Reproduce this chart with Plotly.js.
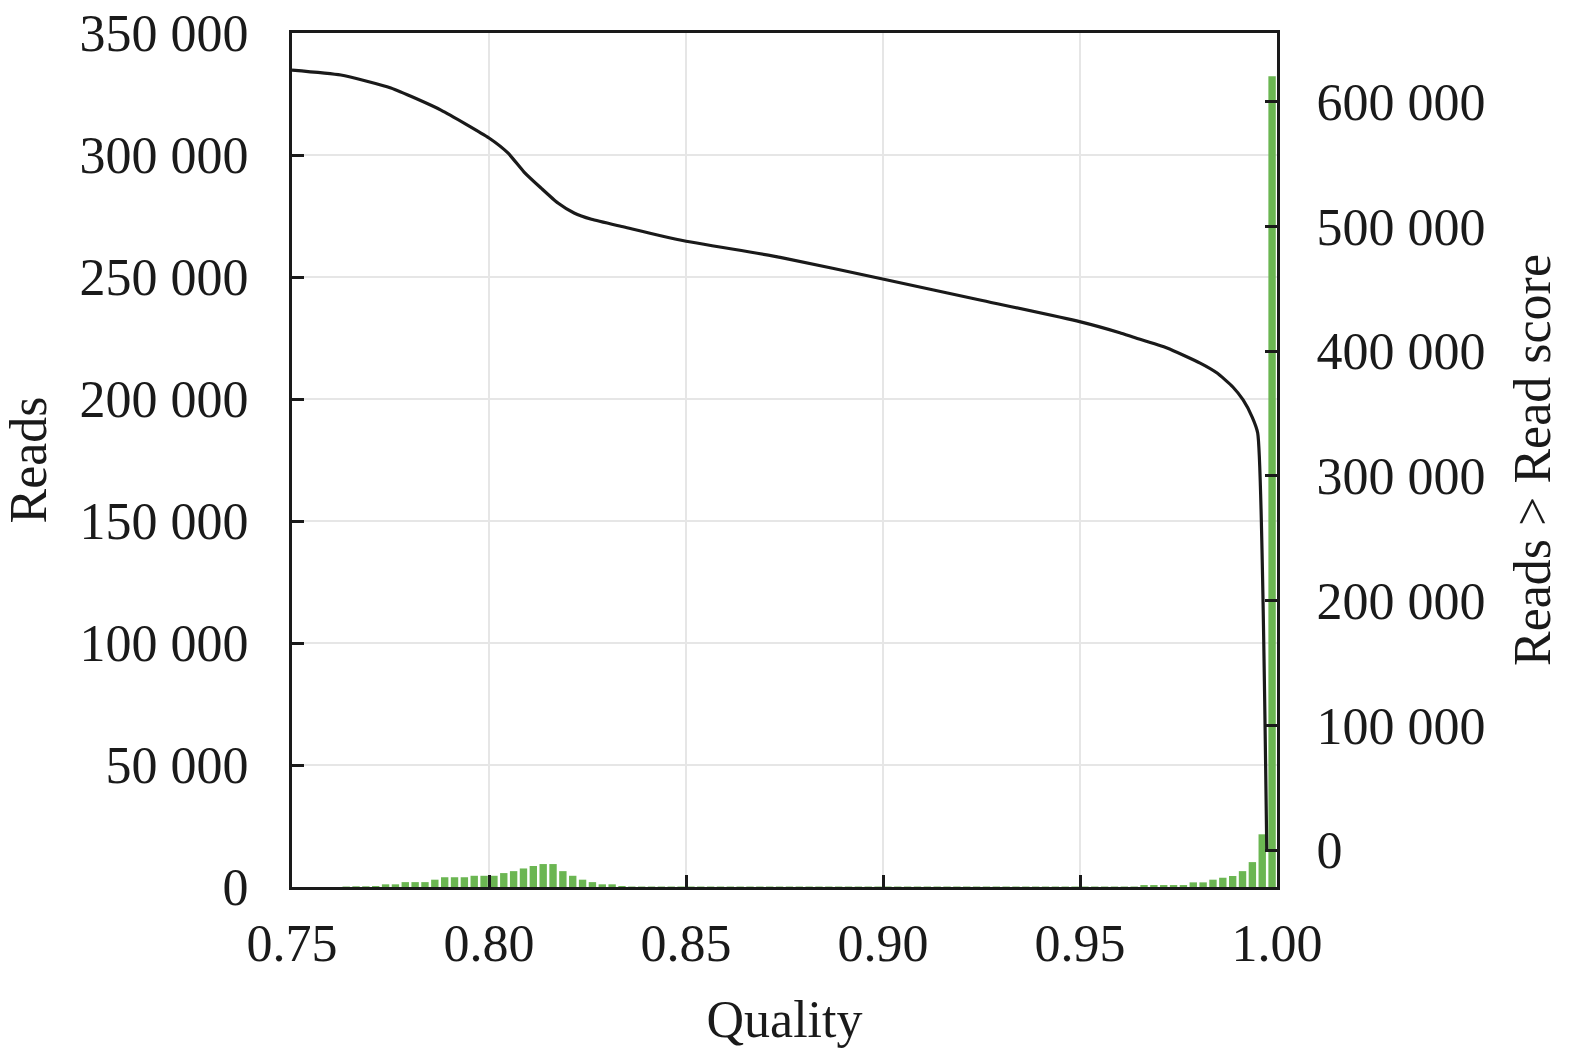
<!DOCTYPE html>
<html>
<head>
<meta charset="utf-8">
<script src="https://cdn.plot.ly/plotly-3.0.1.min.js"></script>
<style>
  html, body { margin: 0; padding: 0; background: #fff; }
  #chart { width: 1575px; height: 1058px; }
</style>
</head>
<body>
<div id="chart"></div>
<script>
"use strict"
// histogram: 100 bins of width 0.0025 between 0.75 and 1.00 (left axis)
let binStart = 0.75;
let binWidth = 0.0025;
let readsPerBin = [
    0, 0, 0, 0, 0, 200, 300, 300, 400, 1100,
    1100, 2000, 2000, 2000, 3000, 4000, 4000, 4000, 4600, 4600,
    4600, 5700, 6500, 7600, 8600, 9400, 9400, 6500, 4600, 3000,
    2000, 1100, 1100, 400, 200, 200, 200, 200, 200, 200,
    200, 200, 200, 200, 200, 200, 200, 200, 200, 200,
    200, 200, 200, 200, 200, 200, 200, 200, 200, 200,
    200, 200, 200, 200, 200, 200, 200, 200, 200, 200,
    200, 200, 200, 200, 200, 200, 200, 200, 200, 200,
    200, 200, 200, 200, 200, 200, 800, 800, 800, 800,
    800, 1900, 1900, 3000, 3800, 4500, 6500, 10200, 21600, 332300
];

// cumulative curve (right axis)
let qualityLine = [0.75, 0.7624, 0.7751, 0.7878, 0.8000, 0.8048, 0.8089, 0.8132, 0.8175,
    0.8216, 0.8260, 0.8343, 0.8485, 0.8739, 0.9005, 0.9246, 0.9499, 0.9601, 0.9634,
    0.9721, 0.9805, 0.9848, 0.9888, 0.9914, 0.9937, 0.9951, 0.9974];
let readsAbove = [625500, 621500, 611100, 593400, 571000, 559000, 543700, 530900, 518800,
    510800, 505800, 499600, 489200, 475300, 457500, 441100, 423700, 414800, 411400,
    402600, 390500, 382500, 371300, 360900, 347200, 334400, 0];

let binCenters = [];
for (let i = 0; i < readsPerBin.length; i++) {
    binCenters.push(binStart + binWidth * (i + 0.5));
}

let fontFamily = '"Liberation Serif", "Times New Roman", serif';
let ink = '#1a1a1a';
let fontSize = 52;

var bars = {
    x: binCenters,
    y: readsPerBin,
    type: 'bar',
    yaxis: 'y',
    hoverinfo: 'none',
    marker: { color: '#6bb652', line: { width: 0 } }
};

var curve = {
    x: qualityLine,
    y: readsAbove,
    type: 'scatter',
    mode: 'lines',
    yaxis: 'y2',
    hoverinfo: 'none',
    line: { color: ink, width: 3.2, shape: 'spline', smoothing: 0.5 }
};

var axisCommon = {
    showline: true,
    linecolor: ink,
    linewidth: 3,
    ticks: 'inside',
    ticklen: 12,
    tickwidth: 3,
    tickcolor: ink,
    zeroline: false,
    tickfont: { family: fontFamily, size: fontSize, color: ink },
    gridcolor: '#e6e6e6',
    gridwidth: 1.5
};

var layout = {
    width: 1575,
    height: 1058,
    margin: { l: 292, r: 298, t: 33, b: 171 },
    paper_bgcolor: '#fff',
    plot_bgcolor: '#fff',
    showlegend: false,
    bargap: 0.25,
    separators: '. ',
    font: { family: fontFamily, size: fontSize, color: ink },
    xaxis: Object.assign({}, axisCommon, {
        range: [0.75, 1.0],
        tick0: 0.75,
        dtick: 0.05,
        tickformat: '.2f',
        mirror: true,
        showgrid: true,
        ticklabelstandoff: 9,
        title: { text: 'Quality', font: { family: fontFamily, size: fontSize, color: ink }, standoff: 30 }
    }),
    yaxis: Object.assign({}, axisCommon, {
        range: [0, 350000],
        tick0: 0,
        dtick: 50000,
        tickformat: ',d',
        showgrid: true,
        ticklabelstandoff: 30,
        title: { text: 'Reads', font: { family: fontFamily, size: fontSize, color: ink }, standoff: 28 }
    }),
    yaxis2: Object.assign({}, axisCommon, {
        overlaying: 'y',
        side: 'right',
        range: [-29670, 655200],
        tick0: 0,
        dtick: 100000,
        tickformat: ',d',
        showgrid: false,
        ticklabelstandoff: 26,
        title: { text: 'Reads > Read score', font: { family: fontFamily, size: fontSize, color: ink }, standoff: 30 }
    })
};

Plotly.newPlot(document.getElementById('chart'), [bars, curve], layout, { staticPlot: true });
</script>
</body>
</html>
